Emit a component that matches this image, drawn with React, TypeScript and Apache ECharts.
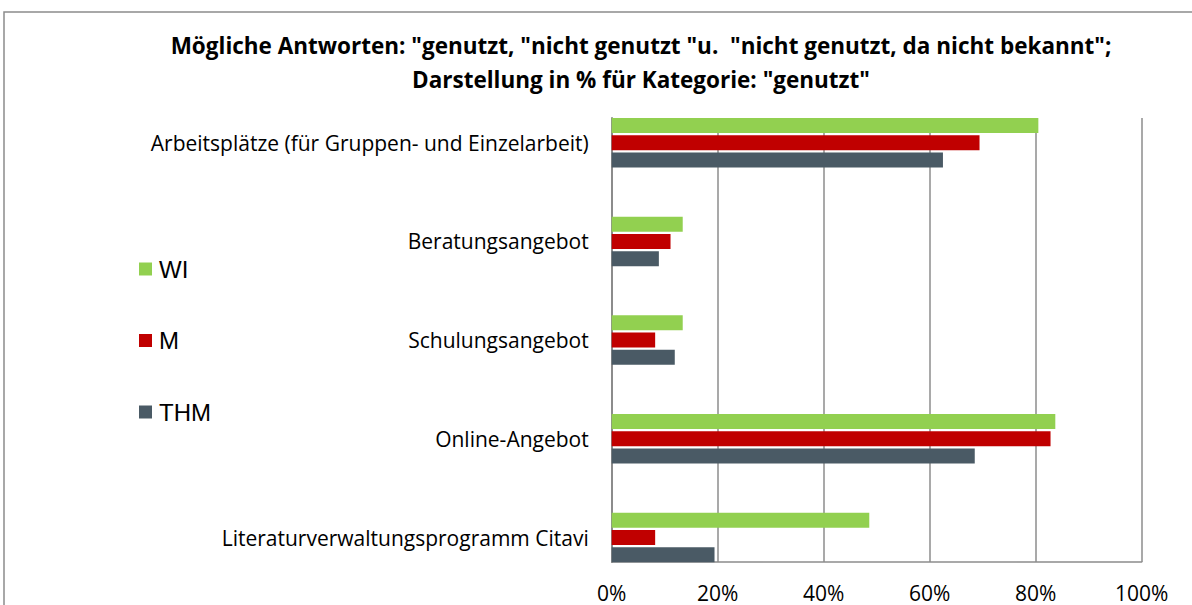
import React, { useEffect, useRef } from "react";
import * as echarts from "echarts";

const categories = [
  "Arbeitsplätze (für Gruppen- und Einzelarbeit)",
  "Beratungsangebot",
  "Schulungsangebot",
  "Online-Angebot",
  "Literaturverwaltungsprogramm Citavi",
];
const seriesNames = ["WI", "M", "THM"];
const wiValues = [80.5, 13.4, 13.4, 83.7, 48.6];
const mValues = [69.4, 11.1, 8.2, 82.8, 8.2];
const thmValues = [62.5, 8.9, 11.9, 68.5, 19.4];
const colors = ["#92D050", "#C00000", "#4A5A65"];
const xTicks = [0, 20, 40, 60, 80, 100];

const titleText =
  'Mögliche Antworten: "genutzt, "nicht genutzt "u.  "nicht genutzt, da nicht bekannt";\nDarstellung in % für Kategorie: "genutzt"';

export default function App() {
  const ref = useRef<HTMLDivElement>(null);
  useEffect(() => {
    if (!ref.current) return;
    const chart = echarts.init(ref.current, null, { renderer: "svg" });
    const gridLeft = 611.7;
    const gridRight = 1192 - 1141.7;
    const values = [wiValues, mValues, thmValues];
    chart.setOption({
      animation: false,
      backgroundColor: "#ffffff",
      title: {
        text: titleText,
        left: 636,
        textAlign: "center",
        top: 23,
        textStyle: {
          fontFamily: "Open Sans",
          fontWeight: "bold",
          fontSize: 22.5,
          lineHeight: 34,
          color: "#000",
        },
      },
      legend: {
        orient: "vertical",
        left: 139,
        top: 257,
        padding: 0,
        itemWidth: 13,
        itemHeight: 13,
        itemGap: 47.5,
        icon: "rect",
        data: seriesNames,
        textStyle: {
          fontFamily: "Liberation Sans",
          fontSize: 24,
          lineHeight: 24,
          color: "#000",
          padding: [0, 0, 0, 2],
        },
      },
      grid: [
        { left: gridLeft, right: gridRight, top: 93.35, bottom: 605 - 586.85 },
        { left: gridLeft, right: gridRight, top: 118, bottom: 605 - 562 },
      ],
      xAxis: [
        { gridIndex: 0, type: "value", min: 0, max: 100, show: false },
        {
          gridIndex: 1,
          type: "value",
          min: 0,
          max: 100,
          interval: 20,
          axisLine: { show: true, lineStyle: { color: "#8c8c8c", width: 1.5 } },
          axisTick: { show: false },
          splitLine: { show: true, lineStyle: { color: "#8c8c8c", width: 1.5 } },
          axisLabel: {
            formatter: (v: number) => (xTicks.includes(v) ? v + "%" : ""),
            fontFamily: "Open Sans",
            fontSize: 21,
            color: "#000",
            margin: 20,
          },
        },
      ],
      yAxis: [
        {
          gridIndex: 0,
          type: "category",
          data: categories,
          inverse: true,
          axisLine: { show: false },
          axisTick: { show: false },
          splitLine: { show: false },
          axisLabel: {
            fontFamily: "Open Sans",
            fontSize: 21,
            color: "#000",
            margin: 23,
          },
        },
        {
          gridIndex: 1,
          type: "value",
          min: 0,
          max: 1,
          axisLine: { show: true, lineStyle: { color: "#8c8c8c", width: 2 } },
          axisTick: { show: false },
          splitLine: { show: false },
          axisLabel: { show: false },
        },
      ],
      series: seriesNames.map((name, i) => ({
        name,
        type: "bar",
        xAxisIndex: 0,
        yAxisIndex: 0,
        data: values[i],
        barWidth: 15,
        barGap: "15%",
        z: 3,
        itemStyle: { color: colors[i] },
      })),
      graphic: [
        {
          type: "rect",
          shape: { x: 4, y: 12, width: 1300, height: 800 },
          style: { fill: "none", stroke: "#8c8c8c", lineWidth: 1.5 },
          silent: true,
        },
      ],
    });
    return () => chart.dispose();
  }, []);
  return (
    <div
      ref={ref}
      style={{ position: "fixed", left: 0, top: 0, width: 1192, height: 605 }}
    />
  );
}
